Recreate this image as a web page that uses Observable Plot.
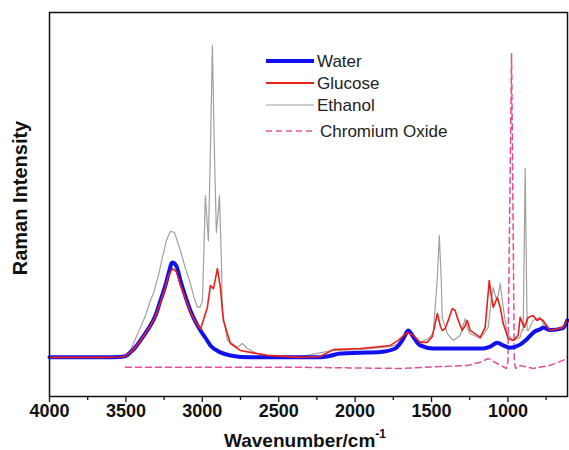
<!DOCTYPE html>
<html>
<head>
<meta charset="utf-8">
<script src="https://cdn.jsdelivr.net/npm/d3@7"></script>
<script src="https://cdn.jsdelivr.net/npm/@observablehq/plot@0.6"></script>
<style>
  html, body { margin: 0; padding: 0; background: #fff; }
</style>
</head>
<body>
<script>
// Series: [wavenumber (cm-1), Raman intensity (a.u.)]
const seriesNames = ["Water", "Glucose", "Ethanol", "Chromium Oxide"];

const water = [
  [4000,10.2],[3666,10.2],[3536,10.3],[3503,10.5],[3470,11.5],[3438,12.8],[3405,14.6],
  [3372,16.5],[3340,18.5],[3307,21.0],[3274,25.0],[3241,29.0],[3221,32.0],[3196,34.9],
  [3170,34.0],[3143,30.2],[3110,26.0],[3078,22.4],[3045,19.5],[3012,17.2],[2980,15.3],
  [2947,13.3],[2882,11.5],[2816,10.7],[2685,10.2],[2228,10.2],[2162,10.6],[2097,11.2],
  [1966,11.4],[1835,11.6],[1737,12.5],[1685,15.0],[1652,17.2],[1619,15.5],[1574,13.3],
  [1489,12.5],[1377,12.5],[1162,12.5],[1116,13.0],[1070,14.0],[1031,13.3],[985,12.7],
  [920,13.5],[874,15.0],[822,17.0],[789,17.5],[770,18.0],[724,17.3],[639,17.8],[612,19.8]
];

const glucose = [
  [4000,10.2],[3666,10.2],[3536,10.3],[3503,10.5],[3470,11.5],[3438,12.8],[3405,14.6],
  [3372,16.5],[3340,18.5],[3307,20.8],[3274,24.5],[3241,28.5],[3221,31.5],[3196,33.3],
  [3170,32.5],[3143,29.0],[3110,25.5],[3078,22.0],[3045,19.5],[3012,17.5],[2967,23.2],
  [2947,28.9],[2927,28.1],[2901,33.3],[2882,28.4],[2862,19.8],[2816,13.8],[2751,12.0],
  [2685,11.5],[2574,10.7],[2358,10.2],[2228,10.4],[2143,12.2],[1966,12.5],[1770,13.3],
  [1717,14.6],[1659,16.7],[1619,15.9],[1574,14.1],[1528,14.1],[1495,15.6],[1476,19.0],
  [1462,21.6],[1443,18.5],[1430,17.2],[1410,17.7],[1391,19.8],[1364,22.9],[1345,22.4],
  [1332,20.6],[1299,17.2],[1279,18.5],[1266,19.8],[1247,17.2],[1181,15.4],[1149,18.0],
  [1122,30.2],[1109,26.3],[1096,23.2],[1070,25.8],[1050,23.2],[1031,19.0],[998,15.1],
  [965,14.6],[933,15.9],[920,20.6],[893,18.0],[867,20.6],[835,21.1],[809,19.8],
  [789,20.3],[770,19.8],[724,17.2],[639,18.0],[612,19.8]
];

const ethanol = [
  [4000,10.2],[3666,10.2],[3536,10.4],[3503,10.7],[3470,12.0],[3405,18.0],[3372,21.0],
  [3340,25.0],[3320,26.8],[3287,31.5],[3261,36.2],[3235,40.6],[3209,43.0],[3182,42.7],
  [3143,38.0],[3110,33.3],[3078,29.4],[3052,25.5],[3032,23.2],[3012,23.4],[2999,25.0],
  [2986,43.0],[2980,52.3],[2967,44.5],[2960,40.6],[2947,64.0],[2934,91.4],[2921,64.0],
  [2908,42.7],[2895,48.4],[2888,52.3],[2875,35.4],[2869,22.4],[2836,14.6],[2770,12.8],
  [2738,13.8],[2705,12.5],[2640,11.2],[2574,10.7],[2358,10.4],[2143,12.0],[1966,12.2],
  [1770,13.0],[1704,13.8],[1659,16.9],[1619,16.1],[1574,14.1],[1521,15.1],[1489,16.4],
  [1476,23.2],[1463,30.2],[1449,41.9],[1436,30.2],[1430,20.6],[1397,16.4],[1358,14.6],
  [1312,15.9],[1279,20.3],[1260,17.2],[1247,16.4],[1181,15.1],[1129,18.0],[1109,25.0],
  [1096,28.4],[1083,26.3],[1070,25.0],[1050,29.4],[1031,23.2],[1005,16.4],[965,14.6],
  [920,15.4],[907,17.5],[900,17.2],[887,59.4],[874,17.2],[867,17.2],[835,19.8],
  [789,20.6],[770,19.0],[724,17.2],[639,18.0],[612,19.8]
];

const chromiumOxide = [
  [3503,7.6],[2358,7.6],[1704,7.3],[1266,8.1],[1181,8.9],[1129,9.9],[1070,8.6],
  [1010,7.3],[1000,9.0],[976,89.3],[958,9.0],[950,7.3],[920,8.1],[835,7.3],[724,8.1],
  [639,9.4],[612,10.2]
];

const majorTicks = [4000, 3500, 3000, 2500, 2000, 1500, 1000];
const minorTicks = [3750, 3250, 2750, 2250, 1750, 1250, 750];

const toRows = (arr) => arr.map(([w, v]) => ({w, v}));

const font = "'Liberation Sans', Arial, Helvetica, sans-serif";

const chart = Plot.plot({
  width: 569,
  height: 450,
  marginLeft: 49,
  marginRight: 2,
  marginTop: 12,
  marginBottom: 54,
  style: {fontFamily: font, background: "#fff", color: "#111"},
  x: {domain: [4000, 610], label: null},
  y: {domain: [0, 100], axis: null},
  marks: [
    Plot.line(toRows(chromiumOxide), {x: "w", y: "v", stroke: "#e0509a", strokeWidth: 1.5, strokeDasharray: "6,4", curve: "linear"}),
    Plot.line(toRows(ethanol), {x: "w", y: "v", stroke: "#a0a0a0", strokeWidth: 1.2, curve: "linear"}),
    Plot.line(toRows(water), {x: "w", y: "v", stroke: "#1010f0", strokeWidth: 4, curve: "monotone-x"}),
    Plot.line(toRows(glucose), {x: "w", y: "v", stroke: "#e8201c", strokeWidth: 1.6, curve: "linear"}),
    Plot.axisX({ticks: minorTicks, tickSize: 4, text: null, strokeWidth: 1.3}),
    Plot.axisX({ticks: majorTicks, tickSize: 6, tickPadding: 2, tickFormat: d => String(d),
      fontSize: 18, fontWeight: "bold", strokeWidth: 1.3}),
    Plot.frame({stroke: "#111", strokeWidth: 1.5})
  ]
});

document.body.appendChild(chart);

// Titles and in-plot legend
const svg = d3.select(chart);
svg.append("text")
  .attr("x", 305).attr("y", 447)
  .attr("text-anchor", "middle")
  .attr("font-family", font).attr("font-weight", "bold").attr("font-size", 19)
  .attr("fill", "#111")
  .call(t => {
    t.append("tspan").text("Wavenumber/cm");
    t.append("tspan").attr("font-size", 12).attr("dy", -9).text("-1");
  });

svg.append("text")
  .attr("transform", "translate(27,198) rotate(-90)")
  .attr("text-anchor", "middle")
  .attr("font-family", font).attr("font-weight", "bold").attr("font-size", 20)
  .attr("fill", "#111")
  .text("Raman Intensity");

const legendStyles = [
  {stroke: "#1010f0", width: 4, dash: null},
  {stroke: "#e8201c", width: 1.8, dash: null},
  {stroke: "#a0a0a0", width: 1.2, dash: null},
  {stroke: "#e0509a", width: 1.5, dash: "6,4"}
];
const legendY = [61, 83, 105, 131];
const lg = svg.append("g").attr("text-anchor", "start");
seriesNames.forEach((name, i) => {
  const s = legendStyles[i];
  lg.append("line")
    .attr("x1", 266).attr("x2", 314)
    .attr("y1", legendY[i]).attr("y2", legendY[i])
    .attr("stroke", s.stroke).attr("stroke-width", s.width)
    .attr("stroke-dasharray", s.dash);
  lg.append("text")
    .attr("x", i === 3 ? 320 : 317).attr("y", legendY[i])
    .attr("dy", "0.36em")
    .attr("text-anchor", "start")
    .attr("font-family", font).attr("font-size", 17)
    .attr("fill", "#222")
    .text(name);
});
</script>
</body>
</html>
